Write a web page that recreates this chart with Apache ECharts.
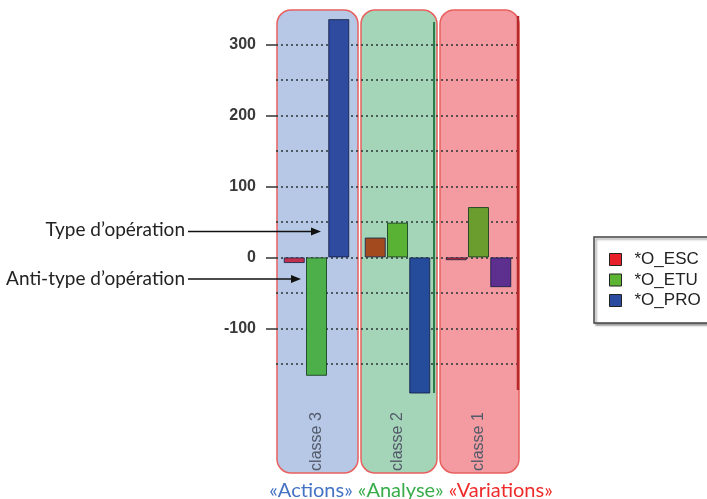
<!DOCTYPE html>
<html><head><meta charset="utf-8">
<script src="https://cdn.jsdelivr.net/npm/echarts@6/dist/echarts.min.js"></script>
<style>html,body{margin:0;padding:0;background:#fff}#c{width:707px;height:499px}</style>
</head><body><div id="c"></div>
<script>
const categories = ['classe 3', 'classe 2', 'classe 1'];
const seriesNames = ['*O_ESC', '*O_ETU', '*O_PRO'];
const escValues = [-8, 28, -4];
const etuValues = [-167, 49, 71];
const proValues = [336, -192, -42];
const yTickLabels = [-100, 0, 100, 200, 300];

const legendColors = ['#e8202a', '#5cb532', '#2b4ba0'];
const barColors = [
  ['#c2304e', '#a34a1f', '#e0201e'],
  ['#4caf4a', '#5ab235', '#6a9c2e'],
  ['#2e4b9f', '#244c9b', '#5d2f8e']
];
const panelColors = ['#b6c8e6', '#a5d5b8', '#f39ba0'];
const borderColors = ['rgba(25,40,80,0.85)', 'rgba(20,60,30,0.85)', 'rgba(20,30,70,0.85)'];
const allValues = [escValues, etuValues, proValues];

const chart = echarts.init(document.getElementById('c'));
const gc = '#2b3535';
const gridCols = ['transparent', gc, gc, gc, gc, gc, gc, gc, gc, gc, gc, 'transparent'];

const series = seriesNames.map((n, i) => ({
  name: n, type: 'bar', barWidth: 21, barGap: '6%',
  itemStyle: { color: legendColors[i], borderColor: borderColors[i], borderWidth: 1 },
  data: allValues[i].map((v, j) => ({ value: v, itemStyle: { color: barColors[i][j] } })),
  z: 5
}));

chart.setOption({
  animation: false,
  grid: { left: 276, width: 243, top: 9.2, height: 390 },
  xAxis: {
    type: 'category', data: categories,
    axisLine: { show: false }, axisTick: { show: false },
    axisLabel: { rotate: 90, margin: 13, fontSize: 16, color: '#535a6a', fontFamily: 'Liberation Sans, Arial' }
  },
  yAxis: [{
    type: 'value', min: -200, max: 350,
    axisLine: { show: false },
    axisTick: { show: true, length: 10, lineStyle: { color: '#333', width: 1.5 }, customValues: yTickLabels },
    axisLabel: { margin: 20, fontSize: 16, fontWeight: 'bold', color: '#3a3a3a', fontFamily: 'Liberation Sans, Arial', customValues: yTickLabels },
    splitLine: { show: false }
  }, {
    type: 'value', min: -200, max: 350, interval: 50, position: 'left',
    axisLine: { show: false }, axisTick: { show: false }, axisLabel: { show: false },
    splitLine: { show: true, lineStyle: { color: gridCols, type: [2, 3], width: 1.6 } }
  }],
  legend: {
    orient: 'vertical', left: 594, top: 237, icon: 'rect',
    padding: [14, 40, 14, 15], itemGap: 3.5, itemWidth: 12, itemHeight: 12,
    borderColor: '#444', borderWidth: 1.5, backgroundColor: '#fff',
    shadowColor: 'rgba(0,0,0,0.35)', shadowBlur: 2, shadowOffsetX: 2, shadowOffsetY: 2,
    itemStyle: { borderColor: '#222', borderWidth: 1 },
    textStyle: { fontSize: 17, color: '#222', fontFamily: 'Liberation Sans, Arial', padding: [0, 0, 0, 8], lineHeight: 12 },
    data: seriesNames
  },
  series: series
});

// Decorative panels and annotations, aligned with category axis
const panelOff = [[-39.5, 81], [-36.5, 76], [-38.5, 79]];
const elems = [];
categories.forEach((c, i) => {
  const cx = chart.convertToPixel({ xAxisIndex: 0 }, c);
  elems.push({
    type: 'rect', z: -10, silent: true,
    shape: { x: cx + panelOff[i][0], y: 10, width: panelOff[i][1], height: 463, r: 14 },
    style: { fill: panelColors[i], stroke: '#e8605e', lineWidth: 1.5 }
  });
});
const c2 = chart.convertToPixel({ xAxisIndex: 0 }, categories[1]);
const c1 = chart.convertToPixel({ xAxisIndex: 0 }, categories[2]);
elems.push({ type: 'line', z: 20, silent: true, shape: { x1: c2 + 36.5, y1: 22, x2: c2 + 36.5, y2: 393 }, style: { stroke: '#2e7a4a', lineWidth: 2 } });
elems.push({ type: 'line', z: 20, silent: true, shape: { x1: c1 + 39.5, y1: 16, x2: c1 + 39.5, y2: 390 }, style: { stroke: '#b8282a', lineWidth: 2.5 } });

elems.push({ type: 'text', z: 30, style: { text: 'Type d’opération', x: 185, y: 230, align: 'right', verticalAlign: 'middle', font: '19px Lato', fill: '#222' } });
elems.push({ type: 'text', z: 30, style: { text: 'Anti-type d’opération', x: 185, y: 279, align: 'right', verticalAlign: 'middle', font: '19px Lato', fill: '#222' } });
elems.push({ type: 'line', z: 30, shape: { x1: 188, y1: 231.5, x2: 314, y2: 231.5 }, style: { stroke: '#111', lineWidth: 1.5 } });
elems.push({ type: 'polygon', z: 30, shape: { points: [[321, 231.5], [311, 227.5], [311, 235.5]] }, style: { fill: '#111' } });
elems.push({ type: 'line', z: 30, shape: { x1: 188, y1: 279, x2: 294, y2: 279 }, style: { stroke: '#111', lineWidth: 1.5 } });
elems.push({ type: 'polygon', z: 30, shape: { points: [[301, 279], [291, 275], [291, 283]] }, style: { fill: '#111' } });

elems.push({
  type: 'text', z: 30,
  style: {
    x: 411, y: 491, align: 'center', verticalAlign: 'middle',
    fontFamily: 'Lato', fontSize: 20,
    rich: {
      a: { fontFamily: 'Lato', fontSize: 20, fill: '#4472c4' },
      b: { fontFamily: 'Lato', fontSize: 20, fill: '#39ac4a' },
      c: { fontFamily: 'Lato', fontSize: 20, fill: '#ee2a2a' }
    },
    text: '{a|«Actions»} {b|«Analyse»} {c|«Variations»}'
  }
});
chart.setOption({ graphic: { elements: elems } });
</script>
</body></html>
